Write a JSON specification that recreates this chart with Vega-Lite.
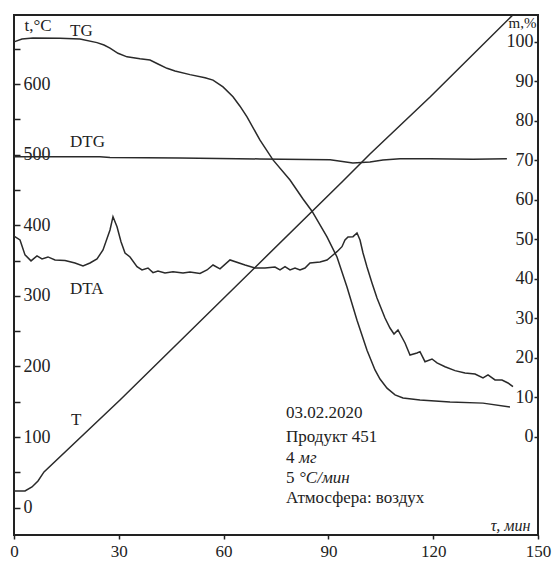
{
  "$schema": "https://vega.github.io/schema/vega-lite/v6.json",
  "width": 524,
  "height": 520,
  "autosize": {"type": "none"},
  "padding": {"left": 14, "top": 15, "right": 15, "bottom": 26},
  "background": "white",
  "config": {
    "view": {"stroke": "#222", "strokeWidth": 2},
    "font": "Liberation Serif"
  },
  "datasets": {
    "curves": [
      {"series": "T", "time": 0, "t": 23.7},
      {"series": "T", "time": 3.15, "t": 23.7},
      {"series": "T", "time": 5.15, "t": 29.3},
      {"series": "T", "time": 6.87, "t": 37.8},
      {"series": "T", "time": 8.59, "t": 50.6},
      {"series": "T", "time": 30.34, "t": 152.5},
      {"series": "T", "time": 94.18, "t": 462.7},
      {"series": "T", "time": 101.9, "t": 501},
      {"series": "T", "time": 119.1, "t": 581.7},
      {"series": "T", "time": 142.6, "t": 697},
      {"series": "DTG", "time": 0, "t": 497.2},
      {"series": "DTG", "time": 24.6, "t": 497.2},
      {"series": "DTG", "time": 27.5, "t": 496},
      {"series": "DTG", "time": 47.5, "t": 495.3},
      {"series": "DTG", "time": 70.4, "t": 494},
      {"series": "DTG", "time": 90.5, "t": 493},
      {"series": "DTG", "time": 97.0, "t": 488.2},
      {"series": "DTG", "time": 101.9, "t": 489.7},
      {"series": "DTG", "time": 105.6, "t": 492.5},
      {"series": "DTG", "time": 110.5, "t": 494.3},
      {"series": "DTG", "time": 119.1, "t": 494.3},
      {"series": "DTG", "time": 131.4, "t": 493.5},
      {"series": "DTG", "time": 141.1, "t": 494.3},
      {"series": "DTA", "time": 0, "t": 384.8},
      {"series": "DTA", "time": 1.72, "t": 379.2},
      {"series": "DTA", "time": 3.15, "t": 358.1},
      {"series": "DTA", "time": 4.87, "t": 349.6},
      {"series": "DTA", "time": 6.58, "t": 356.7},
      {"series": "DTA", "time": 8.02, "t": 352.4},
      {"series": "DTA", "time": 9.73, "t": 355.2},
      {"series": "DTA", "time": 11.74, "t": 351},
      {"series": "DTA", "time": 14.6, "t": 350},
      {"series": "DTA", "time": 17.46, "t": 346.6},
      {"series": "DTA", "time": 19.75, "t": 342.4},
      {"series": "DTA", "time": 21.76, "t": 346.6},
      {"series": "DTA", "time": 23.76, "t": 352.4},
      {"series": "DTA", "time": 25.48, "t": 365},
      {"series": "DTA", "time": 27.48, "t": 393.3},
      {"series": "DTA", "time": 28.34, "t": 412.2},
      {"series": "DTA", "time": 29.49, "t": 398},
      {"series": "DTA", "time": 30.63, "t": 376.8},
      {"series": "DTA", "time": 31.78, "t": 360.8},
      {"series": "DTA", "time": 33.21, "t": 355.1},
      {"series": "DTA", "time": 35.21, "t": 341.4},
      {"series": "DTA", "time": 36.64, "t": 336.7},
      {"series": "DTA", "time": 38.36, "t": 339.5},
      {"series": "DTA", "time": 39.79, "t": 332.9},
      {"series": "DTA", "time": 41.22, "t": 335.3},
      {"series": "DTA", "time": 43.22, "t": 332.4},
      {"series": "DTA", "time": 45.52, "t": 334.3},
      {"series": "DTA", "time": 48.38, "t": 332.4},
      {"series": "DTA", "time": 50.38, "t": 333.9},
      {"series": "DTA", "time": 53.24, "t": 331.7},
      {"series": "DTA", "time": 55.25, "t": 336.7},
      {"series": "DTA", "time": 56.97, "t": 343.8},
      {"series": "DTA", "time": 58.97, "t": 338.2},
      {"series": "DTA", "time": 61.83, "t": 350.9},
      {"series": "DTA", "time": 66.13, "t": 343.8},
      {"series": "DTA", "time": 68.99, "t": 339.5},
      {"series": "DTA", "time": 71.85, "t": 339.5},
      {"series": "DTA", "time": 74.71, "t": 340.9},
      {"series": "DTA", "time": 76.15, "t": 336.7},
      {"series": "DTA", "time": 77.58, "t": 341.4},
      {"series": "DTA", "time": 79.01, "t": 336.7},
      {"series": "DTA", "time": 80.44, "t": 339.5},
      {"series": "DTA", "time": 81.87, "t": 336.7},
      {"series": "DTA", "time": 83.3, "t": 339.5},
      {"series": "DTA", "time": 84.73, "t": 346.6},
      {"series": "DTA", "time": 87.6, "t": 348},
      {"series": "DTA", "time": 89.6, "t": 350.9},
      {"series": "DTA", "time": 91.32, "t": 358},
      {"series": "DTA", "time": 92.46, "t": 362.6},
      {"series": "DTA", "time": 93.89, "t": 369.7},
      {"series": "DTA", "time": 94.75, "t": 379.2},
      {"series": "DTA", "time": 95.61, "t": 383.4},
      {"series": "DTA", "time": 97.04, "t": 383.9},
      {"series": "DTA", "time": 98.19, "t": 389.1},
      {"series": "DTA", "time": 99.05, "t": 379.2},
      {"series": "DTA", "time": 99.91, "t": 360.8},
      {"series": "DTA", "time": 101.05, "t": 340.9},
      {"series": "DTA", "time": 102.48, "t": 318.3},
      {"series": "DTA", "time": 103.91, "t": 297},
      {"series": "DTA", "time": 106.2, "t": 268.7},
      {"series": "DTA", "time": 107.63, "t": 254.5},
      {"series": "DTA", "time": 108.78, "t": 246},
      {"series": "DTA", "time": 109.92, "t": 251.7},
      {"series": "DTA", "time": 111.93, "t": 233.3},
      {"series": "DTA", "time": 113.36, "t": 216.3},
      {"series": "DTA", "time": 115.36, "t": 219.1},
      {"series": "DTA", "time": 116.22, "t": 221},
      {"series": "DTA", "time": 117.65, "t": 206.8},
      {"series": "DTA", "time": 119.66, "t": 210.6},
      {"series": "DTA", "time": 121.09, "t": 205},
      {"series": "DTA", "time": 123.38, "t": 199.7},
      {"series": "DTA", "time": 126.24, "t": 194.1},
      {"series": "DTA", "time": 129.1, "t": 190.8},
      {"series": "DTA", "time": 131.97, "t": 189.4},
      {"series": "DTA", "time": 134.26, "t": 183.7},
      {"series": "DTA", "time": 135.69, "t": 188},
      {"series": "DTA", "time": 137.69, "t": 180.9},
      {"series": "DTA", "time": 139.69, "t": 180.9},
      {"series": "DTA", "time": 141.41, "t": 176.6},
      {"series": "DTA", "time": 142.84, "t": 171.4}
    ],
    "tg": [
      {"time": 0, "m": 100},
      {"time": 2.29, "m": 100.7},
      {"time": 5.44, "m": 101},
      {"time": 13.17, "m": 100.9},
      {"time": 18.89, "m": 100.7},
      {"time": 23.76, "m": 99.8},
      {"time": 25.76, "m": 99.2},
      {"time": 27.48, "m": 98.4},
      {"time": 29.77, "m": 97.1},
      {"time": 32.35, "m": 96.2},
      {"time": 36.07, "m": 95.7},
      {"time": 38.93, "m": 95.4},
      {"time": 41.22, "m": 94.4},
      {"time": 43.8, "m": 93.3},
      {"time": 46.09, "m": 92.6},
      {"time": 50.38, "m": 91.7},
      {"time": 54.68, "m": 90.9},
      {"time": 56.97, "m": 90.3},
      {"time": 59.83, "m": 88.6},
      {"time": 62.69, "m": 86.1},
      {"time": 64.69, "m": 83.7},
      {"time": 66.7, "m": 81},
      {"time": 70.42, "m": 75.1},
      {"time": 74.14, "m": 70.1},
      {"time": 79.01, "m": 65},
      {"time": 82.73, "m": 60.2},
      {"time": 85.31, "m": 57.1},
      {"time": 89.6, "m": 50.6},
      {"time": 92.46, "m": 45.5},
      {"time": 95.32, "m": 37.9},
      {"time": 98.19, "m": 29.5},
      {"time": 101.05, "m": 21.9},
      {"time": 103.34, "m": 16.9},
      {"time": 104.77, "m": 14.6},
      {"time": 106.78, "m": 12.3},
      {"time": 109.07, "m": 10.6},
      {"time": 111.36, "m": 9.8},
      {"time": 116.22, "m": 9.3},
      {"time": 124.81, "m": 8.8},
      {"time": 134.26, "m": 8.5},
      {"time": 141.98, "m": 7.5}
    ],
    "labels": [
      {"kind": "normal", "time": 16.03, "t": 675.2, "text": "TG"},
      {"kind": "normal", "time": 16.03, "t": 517.3, "text": "DTG"},
      {"kind": "normal", "time": 16.03, "t": 309.8, "text": "DTA"},
      {"kind": "normal", "time": 16.32, "t": 123.5, "text": "T"},
      {"kind": "normal", "time": 77.86, "t": 134.1, "text": "03.02.2020"},
      {"kind": "normal", "time": 77.86, "t": 100.1, "text": "Продукт 451"},
      {"kind": "normal", "time": 77.86, "t": 70.4, "text": "4"},
      {"kind": "italic", "time": 81.6, "t": 70.4, "text": "мг"},
      {"kind": "normal", "time": 77.86, "t": 42.1, "text": "5"},
      {"kind": "italic", "time": 81.6, "t": 42.1, "text": "°C/мин"},
      {"kind": "normal", "time": 77.86, "t": 13.7, "text": "Атмосфера: воздух"}
    ]
  },
  "encoding": {
    "x": {
      "field": "time",
      "type": "quantitative",
      "scale": {"domain": [0, 150], "nice": false, "zero": false},
      "axis": {
        "orient": "bottom",
        "values": [0, 30, 60, 90, 120, 150],
        "domain": false,
        "grid": false,
        "tickSize": 4,
        "tickWidth": 1.5,
        "tickColor": "#222",
        "labelPadding": 4,
        "labelFlush": false,
        "labelOverlap": false,
        "labelFont": "Liberation Serif",
        "labelFontSize": 17,
        "labelColor": "#222",
        "title": "τ, мин",
        "titleFont": "Liberation Serif",
        "titleFontSize": 16,
        "titleFontStyle": "italic",
        "titleFontWeight": "normal",
        "titleColor": "#222",
        "titleX": 516,
        "titleY": -5,
        "titleAlign": "right",
        "titleBaseline": "alphabetic",
        "titleAngle": 0
      }
    }
  },
  "layer": [
    {
      "encoding": {
        "y": {
          "field": "t",
          "type": "quantitative",
          "scale": {"domain": [-38.7, 697.9], "nice": false, "zero": false},
          "axis": {
            "orient": "right",
            "offset": -524,
            "values": [0, 50, 100, 150, 200, 250, 300, 350, 400, 450, 500, 550, 600, 650],
            "labelExpr": "datum.value % 100 === 0 ? datum.label : ''",
            "domain": false,
            "grid": false,
            "tickSize": 6,
            "tickWidth": 1.5,
            "tickColor": "#222",
            "labelPadding": 3,
            "labelAlign": "left",
            "labelBaseline": "middle",
            "labelOverlap": false,
            "labelFont": "Liberation Serif",
            "labelFontSize": 18,
            "labelColor": "#222",
            "title": "t,°C",
            "titleFont": "Liberation Serif",
            "titleFontSize": 17,
            "titleFontWeight": "normal",
            "titleColor": "#222",
            "titleAngle": 0,
            "titleX": 10,
            "titleY": 15,
            "titleAlign": "left",
            "titleBaseline": "alphabetic"
          }
        }
      },
      "layer": [
        {
          "data": {"name": "curves"},
          "mark": {"type": "line", "color": "#2a2a2a", "strokeWidth": 1.5},
          "encoding": {"detail": {"field": "series", "type": "nominal"}}
        },
        {
          "data": {"name": "labels"},
          "transform": [{"filter": "datum.kind === 'normal'"}],
          "mark": {"type": "text", "align": "left", "baseline": "middle", "font": "Liberation Serif", "fontSize": 17, "color": "#222"},
          "encoding": {"text": {"field": "text", "type": "nominal"}}
        },
        {
          "data": {"name": "labels"},
          "transform": [{"filter": "datum.kind === 'italic'"}],
          "mark": {"type": "text", "align": "left", "baseline": "middle", "font": "Liberation Serif", "fontSize": 17, "fontStyle": "italic", "color": "#222"},
          "encoding": {"text": {"field": "text", "type": "nominal"}}
        }
      ]
    },
    {
      "data": {"name": "tg"},
      "mark": {"type": "line", "color": "#2a2a2a", "strokeWidth": 1.5},
      "encoding": {
        "y": {
          "field": "m",
          "type": "quantitative",
          "scale": {"domain": [-24.9, 106.8], "nice": false, "zero": false},
          "axis": {
            "orient": "left",
            "offset": -524,
            "values": [0, 10, 20, 30, 40, 50, 60, 70, 80, 90, 100],
            "domain": false,
            "grid": false,
            "tickSize": 4,
            "tickWidth": 1.5,
            "tickColor": "#222",
            "labelPadding": 1,
            "labelAlign": "right",
            "labelBaseline": "middle",
            "labelOverlap": false,
            "labelFont": "Liberation Serif",
            "labelFontSize": 18,
            "labelColor": "#222",
            "title": "m,%",
            "titleFont": "Liberation Serif",
            "titleFontSize": 15,
            "titleFontWeight": "normal",
            "titleColor": "#222",
            "titleAngle": 0,
            "titleX": -2,
            "titleY": 12,
            "titleAlign": "right",
            "titleBaseline": "alphabetic"
          }
        }
      }
    }
  ],
  "resolve": {"scale": {"y": "independent"}, "axis": {"y": "independent"}}
}
